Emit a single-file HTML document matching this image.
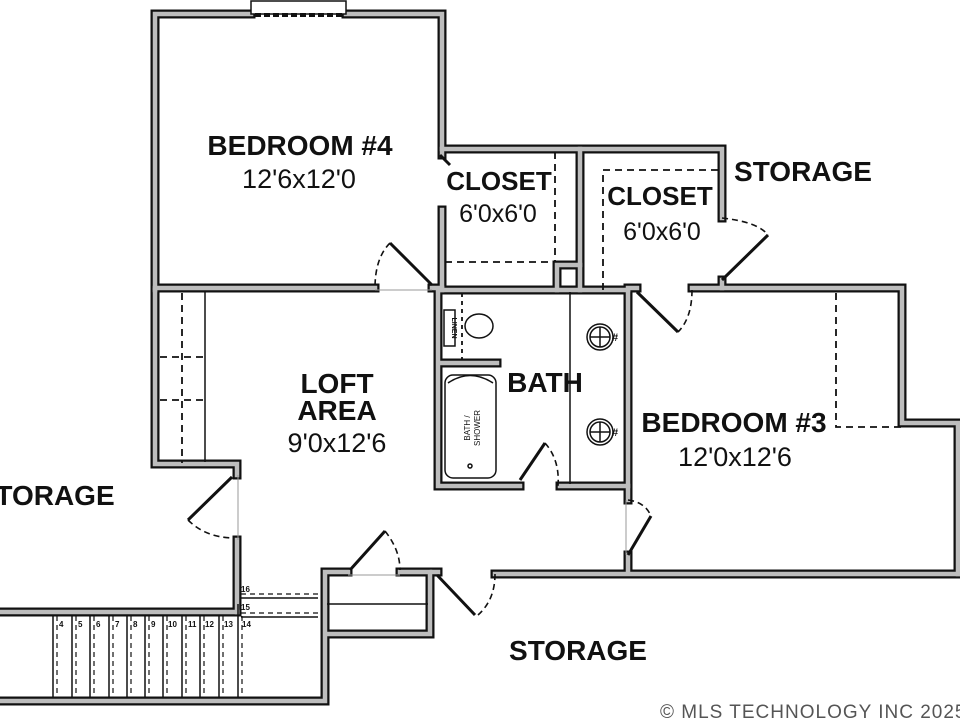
<!DOCTYPE html>
<html><head><meta charset="utf-8"><style>
html,body{margin:0;padding:0;background:#fff;}
svg{display:block}
.w1{fill:none;stroke:#111;stroke-width:9;stroke-linecap:square;stroke-linejoin:miter}
.w2{fill:none;stroke:#bdbdbd;stroke-width:4.5;stroke-linecap:square;stroke-linejoin:miter}
.d{fill:none;stroke:#111;stroke-width:1.8;stroke-dasharray:7 5}
.t{fill:none;stroke:#111;stroke-width:1.5}
.door{fill:none;stroke:#111;stroke-width:3}
.arc{fill:none;stroke:#111;stroke-width:1.6;stroke-dasharray:6 4}
text{font-family:"Liberation Sans",sans-serif;font-weight:bold;fill:#111}
.lbl{font-size:28px}
.dim{font-size:27px;font-weight:normal}
</style></head><body>
<svg width="960" height="720" viewBox="0 0 960 720">
<defs>
<g id="walls">
<path d="M155,290 V14 H251 M346,14 H442 V155 M442,210 V290"/>
<path d="M155,288 H375 M432,288 H442"/>
<path d="M442,149 H722 V218 M722,280 V288"/>
<path d="M580,149 V290"/>
<path d="M557,265 H580 M557,265 V290"/>
<path d="M442,290 H628 M628,288 H637 M692,288 H902 V423 H958 V574"/>
<path d="M628,290 V500 M628,555 V572"/>
<path d="M495,574 H962"/>
<path d="M438,290 V486 H520 M560,486 H628"/>
<path d="M441,363 H497"/>
<path d="M155,290 V464 H237 V475 M237,540 V612"/>
<path d="M0,612 H200 M200,612 H237"/>
<path d="M0,701 H325 V572 H348 M400,572 H430 V634 H325"/>
<path d="M432,572 H438"/>
</g>
</defs>
<use href="#walls" class="w1"/>
<use href="#walls" class="w2"/>

<rect x="251" y="1" width="95" height="13" fill="#fff" stroke="#111" stroke-width="1.5"/>
<line x1="255" y1="15" x2="342" y2="15" stroke="#111" stroke-width="4" stroke-dasharray="6 3"/>

<line class="door" x1="390" y1="243" x2="432" y2="285"/>
<path class="arc" d="M390,243 Q375,258 375,288"/>
<line x1="375" y1="290" x2="432" y2="290" stroke="#999" stroke-width="1"/>
<line class="door" x1="440" y1="155" x2="450" y2="165"/>
<line class="d" x1="555" y1="152" x2="555" y2="262"/>
<line class="d" x1="445" y1="262" x2="553" y2="262"/>
<path class="d" d="M603,290 V170 H718"/>
<line class="door" x1="722" y1="280" x2="768" y2="235"/>
<path class="arc" d="M722,218 Q758,222 768,235"/>
<line class="door" x1="637" y1="292" x2="678" y2="332"/>
<path class="arc" d="M692,290 Q692,318 678,332"/>
<path class="d" d="M836,293 V427 H902"/>
<path class="door" d="M628,555 L651,516"/>
<path class="arc" d="M628,500 Q645,502 651,516"/>
<line x1="626" y1="500" x2="626" y2="555" stroke="#999" stroke-width="1"/>
<line class="door" x1="520" y1="480" x2="545" y2="443"/>
<path class="arc" d="M545,443 Q560,460 558,486"/>
<line class="t" x1="570" y1="292" x2="570" y2="484"/>
<g class="t">
<circle cx="600" cy="337" r="13"/><circle cx="600" cy="337" r="10"/>
<line x1="590" y1="337" x2="610" y2="337"/><line x1="600" y1="327" x2="600" y2="347"/>
<circle cx="600" cy="432" r="13"/><circle cx="600" cy="432" r="10"/>
<line x1="590" y1="432" x2="610" y2="432"/><line x1="600" y1="422" x2="600" y2="442"/>
</g>
<text x="612" y="341" font-size="11">#</text>
<text x="612" y="436" font-size="11">#</text>
<line class="d" x1="462" y1="293" x2="462" y2="360" style="stroke-dasharray:4 4"/>
<ellipse cx="479" cy="326" rx="14" ry="12" class="t"/>
<rect x="444" y="310" width="11" height="36" class="t"/>
<text x="0" y="0" font-size="7" transform="translate(452,328) rotate(90)" text-anchor="middle">LINEN</text>
<rect x="445" y="375" width="51" height="103" rx="8" class="t"/>
<path class="t" d="M448,383 Q470,368 493,383"/>
<text style="font-size:8px;font-weight:normal" transform="translate(470,428) rotate(-90)" text-anchor="middle">BATH /</text>
<text style="font-size:8px;font-weight:normal" transform="translate(480,428) rotate(-90)" text-anchor="middle">SHOWER</text>
<circle cx="470" cy="466" r="2" class="t"/>
<line class="d" x1="182" y1="293" x2="182" y2="463"/>
<line class="t" x1="205" y1="292" x2="205" y2="462"/>
<line class="d" x1="160" y1="357" x2="204" y2="357"/>
<line class="d" x1="160" y1="400" x2="204" y2="400"/>
<line class="door" x1="232" y1="477" x2="188" y2="520"/>
<path class="arc" d="M188,520 Q205,537 232,538"/>
<line x1="238" y1="475" x2="238" y2="540" stroke="#999" stroke-width="1"/>
<line class="door" x1="350" y1="570" x2="385" y2="531"/>
<path class="arc" d="M385,531 Q400,550 400,570"/>
<line class="t" x1="327" y1="604" x2="428" y2="604"/>
<line x1="348" y1="575" x2="400" y2="575" stroke="#999" stroke-width="1"/>
<line class="door" x1="437" y1="575" x2="475" y2="615"/>
<path class="arc" d="M495,574 Q495,600 478,615"/>
<g class="t">
<line x1="53" y1="616" x2="53" y2="697"/><line x1="72" y1="616" x2="72" y2="697"/>
<line x1="90" y1="616" x2="90" y2="697"/><line x1="109" y1="616" x2="109" y2="697"/>
<line x1="127" y1="616" x2="127" y2="697"/><line x1="145" y1="616" x2="145" y2="697"/>
<line x1="163" y1="616" x2="163" y2="697"/><line x1="182" y1="616" x2="182" y2="697"/>
<line x1="200" y1="616" x2="200" y2="697"/><line x1="219" y1="616" x2="219" y2="697"/>
<line x1="238" y1="604" x2="238" y2="697"/>
<line x1="241" y1="617" x2="318" y2="617"/><line x1="241" y1="598" x2="318" y2="598"/>
</g>
<g class="d" style="stroke-dasharray:5 4;stroke-width:1.2">
<line x1="57" y1="616" x2="57" y2="697"/><line x1="76" y1="616" x2="76" y2="697"/>
<line x1="94" y1="616" x2="94" y2="697"/><line x1="113" y1="616" x2="113" y2="697"/>
<line x1="131" y1="616" x2="131" y2="697"/><line x1="149" y1="616" x2="149" y2="697"/>
<line x1="167" y1="616" x2="167" y2="697"/><line x1="186" y1="616" x2="186" y2="697"/>
<line x1="204" y1="616" x2="204" y2="697"/><line x1="223" y1="616" x2="223" y2="697"/>
<line x1="242" y1="616" x2="242" y2="697"/>
<line x1="241" y1="594" x2="318" y2="594"/><line x1="241" y1="613" x2="318" y2="613"/>
</g>
<g font-size="8">
<text x="59" y="627">4</text><text x="78" y="627">5</text><text x="96" y="627">6</text>
<text x="115" y="627">7</text><text x="133" y="627">8</text><text x="151" y="627">9</text>
<text x="168" y="627">10</text><text x="188" y="627">11</text><text x="205" y="627">12</text>
<text x="224" y="627">13</text><text x="242" y="627">14</text>
<text x="241" y="592">16</text><text x="241" y="610">15</text>
</g>
<text class="lbl" x="300" y="155" text-anchor="middle">BEDROOM #4</text>
<text class="dim" x="299" y="188" text-anchor="middle">12'6x12'0</text>
<text class="lbl" x="499" y="190" text-anchor="middle" style="font-size:26px">CLOSET</text>
<text class="dim" x="498" y="222" text-anchor="middle" style="font-size:25px">6'0x6'0</text>
<text class="lbl" x="660" y="205" text-anchor="middle" style="font-size:26px">CLOSET</text>
<text class="dim" x="662" y="240" text-anchor="middle" style="font-size:25px">6'0x6'0</text>
<text class="lbl" x="803" y="181" text-anchor="middle">STORAGE</text>
<text class="lbl" x="337" y="393" text-anchor="middle">LOFT</text>
<text class="lbl" x="337" y="420" text-anchor="middle">AREA</text>
<text class="dim" x="337" y="452" text-anchor="middle">9'0x12'6</text>
<text class="lbl" x="545" y="392" text-anchor="middle">BATH</text>
<text class="lbl" x="734" y="432" text-anchor="middle">BEDROOM #3</text>
<text class="dim" x="735" y="466" text-anchor="middle">12'0x12'6</text>
<text class="lbl" x="55" y="505" text-anchor="middle">TORAGE</text>
<text class="lbl" x="578" y="660" text-anchor="middle">STORAGE</text>
<text x="660" y="718" style="font-size:19px;font-weight:normal;fill:#555;letter-spacing:1px">© MLS TECHNOLOGY INC 2025</text>
</svg>
</body></html>
